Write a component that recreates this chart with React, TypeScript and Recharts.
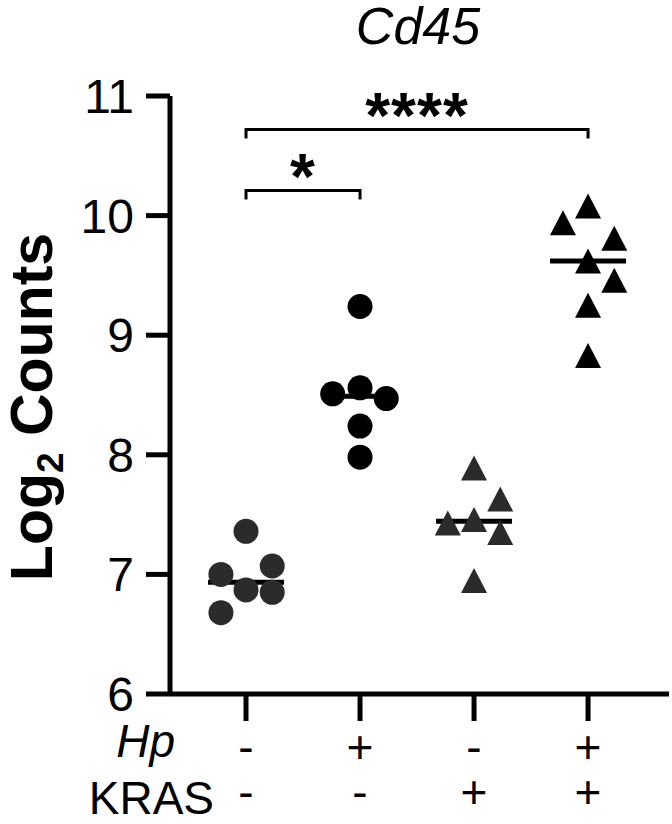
import { ScatterChart, Scatter, XAxis, YAxis, ReferenceLine } from 'recharts'

const FONT = '"Liberation Sans", Arial, Helvetica, sans-serif'

const HP_SIGNS = ['-', '+', '-', '+']
const KRAS_SIGNS = ['-', '-', '+', '+']
const X_TICKS = [1, 2, 3, 4]
const Y_TICKS = [6, 7, 8, 9, 10, 11]

// log2 counts per mouse, jitter = horizontal offset inside the group column
const CTRL_Y = [7.36, 7.0, 7.07, 6.87, 6.85, 6.68]
const CTRL_JITTER = [0, -0.22, 0.23, 0, 0.23, -0.22]
const HP_Y = [9.24, 8.51, 8.56, 8.47, 8.24, 7.98]
const HP_JITTER = [0, -0.24, 0, 0.23, 0, 0]
const KRAS_Y = [7.89, 7.63, 7.43, 7.46, 7.35, 6.95]
const KRAS_JITTER = [0, 0.23, -0.23, 0, 0.23, 0]
const HP_KRAS_Y = [10.08, 9.94, 9.81, 9.62, 9.46, 9.25, 8.83]
const HP_KRAS_JITTER = [0, -0.22, 0.23, 0, 0.23, 0, 0]

const COMPARISONS = [
  { from: 1, to: 2, y: 10.21, label: '*' },
  { from: 1, to: 4, y: 10.72, label: '****' },
]
const LEG = 0.075

const toPoints = (group: number, ys: number[], jitter: number[]) =>
  ys.map((y, i) => ({ x: group + jitter[i], y }))

const median = (ys: number[]) => {
  const s = [...ys].sort((a, b) => a - b)
  const m = Math.floor(s.length / 2)
  return s.length % 2 ? s[m] : (s[m - 1] + s[m]) / 2
}

const MEDIANS = [CTRL_Y, HP_Y, KRAS_Y, HP_KRAS_Y].map((ys, i) => ({ x: i + 1, y: median(ys) }))

const dot = (fill: string) => (p: any) => <circle cx={p.cx} cy={p.cy} r={12.5} fill={fill} />
const triangle = (fill: string) => (p: any) => (
  <polygon
    points={`${p.cx},${p.cy - 12.5} ${p.cx - 13},${p.cy + 12.5} ${p.cx + 13},${p.cy + 12.5}`}
    fill={fill}
  />
)
const medianBar = (p: any) => (
  <line x1={p.cx - 38} x2={p.cx + 38} y1={p.cy} y2={p.cy} stroke="#000" strokeWidth={5} />
)

function SignTick({ x, y, payload }: any) {
  const i = Math.round(payload.value) - 1
  return (
    <g fontFamily={FONT} fontSize={46} fill="#000">
      <text x={x} y={y + 40} textAnchor="middle">{HP_SIGNS[i]}</text>
      <text x={x} y={y + 85} textAnchor="middle">{KRAS_SIGNS[i]}</text>
    </g>
  )
}

export default function App() {
  return (
    <div style={{ position: 'relative', width: 672, height: 824, background: '#fff', fontFamily: FONT }}>
      <style>{'body{margin:0}'}</style>
      <div
        style={{
          position: 'absolute',
          top: 0,
          left: 418,
          transform: 'translateX(-50%)',
          fontSize: 52,
          lineHeight: 1,
          fontStyle: 'italic',
          whiteSpace: 'nowrap',
        }}
      >
        Cd45
      </div>
      <ScatterChart width={672} height={824} margin={{ top: 96, right: 3, bottom: 0, left: 0 }}>
        <XAxis
          type="number"
          dataKey="x"
          domain={[1 / 3, 4.71]}
          ticks={X_TICKS}
          allowDataOverflow
          height={130}
          tickSize={27}
          axisLine={{ stroke: '#000', strokeWidth: 5 }}
          tickLine={{ stroke: '#000', strokeWidth: 5 }}
          tick={<SignTick />}
          label={(props: any) => {
            const vb = props.viewBox
            return (
              <g fontFamily={FONT} fontSize={46} fill="#000">
                <text x={vb.x + 5} y={vb.y + 63} textAnchor="end" fontStyle="italic">Hp</text>
                <text x={vb.x + 44} y={vb.y + 120} textAnchor="end">KRAS</text>
              </g>
            )
          }}
        />
        <YAxis
          type="number"
          dataKey="y"
          domain={[6, 11]}
          ticks={Y_TICKS}
          allowDataOverflow
          width={170}
          tickSize={24}
          tickMargin={12}
          axisLine={{ stroke: '#000', strokeWidth: 5 }}
          tickLine={{ stroke: '#000', strokeWidth: 5 }}
          tick={{ fill: '#000', fontSize: 48, fontFamily: FONT }}
          label={(props: any) => {
            const vb = props.viewBox
            const cy = vb.y + vb.height / 2 + 12
            return (
              <text
                x={52}
                y={cy}
                transform={`rotate(-90, 52, ${cy})`}
                textAnchor="middle"
                fontFamily={FONT}
                fontWeight="bold"
                fontSize={59}
                fill="#000"
              >
                <tspan>Log</tspan>
                <tspan fontSize={37} dy={11}>2</tspan>
                <tspan dy={-11}> Counts</tspan>
              </text>
            )
          }}
        />
        {COMPARISONS.map((c) => (
          <ReferenceLine
            key={`h${c.label}`}
            segment={[{ x: c.from, y: c.y }, { x: c.to, y: c.y }]}
            stroke="#000"
            strokeWidth={3}
            label={(props: any) => {
              const vb = props.viewBox
              return (
                <text
                  x={vb.x + vb.width / 2}
                  y={vb.y + 9}
                  textAnchor="middle"
                  fontFamily={FONT}
                  fontWeight="bold"
                  fontSize={64}
                  letterSpacing={1}
                  fill="#000"
                >
                  {c.label}
                </text>
              )
            }}
          />
        ))}
        {COMPARISONS.flatMap((c) =>
          [c.from, c.to].map((gx) => (
            <ReferenceLine
              key={`v${c.label}${gx}`}
              segment={[{ x: gx, y: c.y + 0.012 }, { x: gx, y: c.y - LEG }]}
              stroke="#000"
              strokeWidth={3}
            />
          ))
        )}
        <Scatter data={MEDIANS} shape={medianBar} isAnimationActive={false} />
        <Scatter data={toPoints(1, CTRL_Y, CTRL_JITTER)} shape={dot('#2b2b2b')} isAnimationActive={false} />
        <Scatter data={toPoints(2, HP_Y, HP_JITTER)} shape={dot('#000')} isAnimationActive={false} />
        <Scatter data={toPoints(3, KRAS_Y, KRAS_JITTER)} shape={triangle('#2b2b2b')} isAnimationActive={false} />
        <Scatter data={toPoints(4, HP_KRAS_Y, HP_KRAS_JITTER)} shape={triangle('#000')} isAnimationActive={false} />
      </ScatterChart>
    </div>
  )
}
